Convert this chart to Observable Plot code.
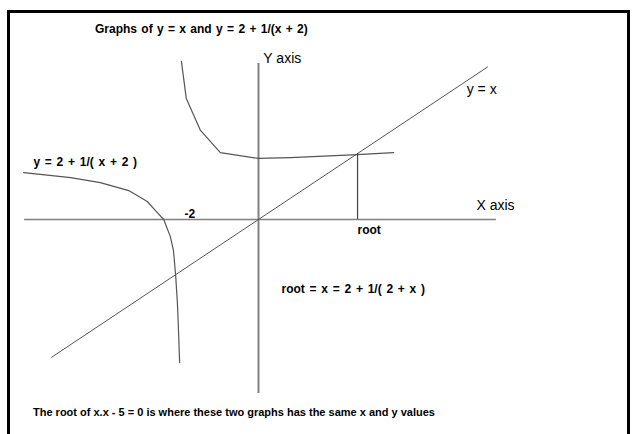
<!DOCTYPE html>
<html><head><meta charset="utf-8">
<script src="https://cdn.jsdelivr.net/npm/d3@7"></script>
<script src="https://cdn.jsdelivr.net/npm/@observablehq/plot@0.6"></script>
<style>
html,body{margin:0;padding:0;background:#fff;width:633px;height:434px;overflow:hidden;font-family:"Liberation Sans",Arial,sans-serif;color:#000;}
#frame{position:absolute;left:7px;top:10px;width:617px;height:440px;border-left:3px solid #000;border-top:3px solid #000;border-right:3px solid #000;}
#title{position:absolute;left:95px;top:22px;font-size:12px;font-weight:bold;word-spacing:1px;white-space:nowrap;}
#chart{position:absolute;left:0;top:40px;}
#caption{position:absolute;left:33px;top:406px;font-size:11px;font-weight:bold;white-space:nowrap;}
</style></head>
<body>
<div id="frame"></div>
<div id="title"></div>
<div id="chart"></div>
<div id="caption"></div>
<script>
// ---- data (math units) ----
const titleText = "Graphs of y = x and y = 2 + 1/(x + 2)";
const captionText = "The root of x.x - 5 = 0 is where these two graphs has the same x and y values";

const identityX = [-4.67, 5.17];               // y = x, end points
const upperX = [-1.74, -1.63, -1.31, -0.86, 0.00, 0.72, 2.23, 3.05];
const upperY = [ 5.36,  4.10,  3.02,  2.27, 2.07, 2.10, 2.20, 2.27];
const lowerX = [-5.30, -4.24, -3.57, -2.93, -2.51, -2.33, -2.14, -1.99, -1.92, -1.87, -1.83, -1.81, -1.78];
const lowerY = [ 1.59,  1.42,  1.25,  0.98,  0.61,  0.31,  0.00, -0.58, -1.05, -1.90, -2.85, -3.59, -4.85];
const xAxisExtent = [-5.28, 5.37];
const yAxisExtent = [-5.90, 5.29];
const root = 2.236;

const labelText = ["Y axis", "X axis", "y = x", "y = 2 + 1/( x + 2 )", "-2", "root", "root = x = 2 + 1/( 2 + x )"];
const labelX =    [0.11,     4.92,     4.70,    -5.08,                 -1.55, 2.235,  0.52];
const labelY =    [5.46,     0.47,     4.41,     1.93,                  0.17, -0.37, -2.37];

// ---- build ----
document.getElementById("title").textContent = titleText;
document.getElementById("caption").textContent = captionText;

const identity = identityX.map(x => ({x, y: x}));
const upper = upperX.map((x, i) => ({x, y: upperY[i]}));
const lower = lowerX.map((x, i) => ({x, y: lowerY[i]}));
const labels = labelText.map((t, i) => ({t, x: labelX[i], y: labelY[i]}));

const lbl = (i, opts) => Plot.text([labels[i]], {x: "x", y: "y", text: "t", fill: "#000", ...opts});

const chart = Plot.plot({
  width: 633, height: 360, margin: 0,
  x: {domain: [-5, 5], range: [36.5, 479.5], axis: null},
  y: {domain: [-5, 5], range: [326.5, 31.5], axis: null},
  style: {fontFamily: "Liberation Sans, Arial, sans-serif", fontSize: "11px", background: "transparent", overflow: "visible"},
  marks: [
    Plot.ruleY([0], {x1: xAxisExtent[0], x2: xAxisExtent[1], stroke: "#808080", strokeWidth: 1.5}),
    Plot.ruleX([0], {y1: yAxisExtent[0], y2: yAxisExtent[1], stroke: "#808080", strokeWidth: 2}),
    Plot.line(identity, {x: "x", y: "y", stroke: "#555", strokeWidth: 1}),
    Plot.line(upper, {x: "x", y: "y", stroke: "#555", strokeWidth: 1.2}),
    Plot.line(lower, {x: "x", y: "y", stroke: "#555", strokeWidth: 1.2}),
    Plot.ruleX([root], {y1: 0, y2: root, stroke: "#444", strokeWidth: 1.2}),
    lbl(0, {textAnchor: "start", fontSize: 14}),
    lbl(1, {textAnchor: "start", fontSize: 14}),
    lbl(2, {textAnchor: "start", fontSize: 14}),
    lbl(3, {textAnchor: "start", fontWeight: "bold", fontSize: 12, className: "ws"}),
    lbl(4, {textAnchor: "middle", fontWeight: "bold", fontSize: 12}),
    lbl(5, {textAnchor: "start", fontWeight: "bold", fontSize: 12}),
    lbl(6, {textAnchor: "start", fontWeight: "bold", fontSize: 12, className: "ws"})
  ]
});
chart.querySelectorAll(".ws text").forEach(t => t.style.wordSpacing = "1.4px");
document.getElementById("chart").appendChild(chart);
</script>
</body></html>
